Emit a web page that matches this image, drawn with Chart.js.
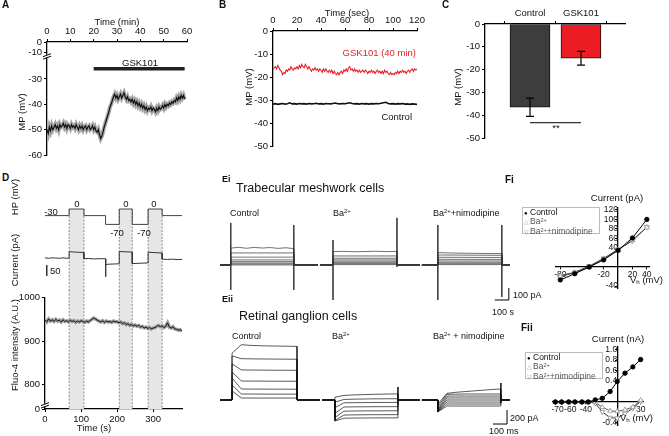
<!DOCTYPE html>
<html>
<head>
<meta charset="utf-8">
<script src="https://cdn.jsdelivr.net/npm/chart.js@4.4.1/dist/chart.umd.min.js"></script>
<style>
  body { margin: 0; background: #fff; }
  #fig { position: relative; width: 669px; height: 436px; overflow: hidden;
         font-family: 'Liberation Sans', Arial, sans-serif; color: #111; background: #fff; }
  #fig canvas { position: absolute; }
  .t { position: absolute; white-space: nowrap; font-size: 9.5px; line-height: 1; z-index: 5; }
  .pl { font-weight: bold; font-size: 10px; }
  .c { transform: translate(-50%, -50%); }
  .l { transform: translateY(-50%); }
  .r { transform: translate(-100%, -50%); }
  .rot { transform: translate(-50%, -50%) rotate(-90deg); }
  .big { font-size: 12.5px; }
  .sm { font-size: 9px; }
  sup { font-size: 0.65em; line-height: 0; vertical-align: 0.45em; }
  sub { font-size: 0.65em; line-height: 0; vertical-align: -0.2em; }
  .leg { position: absolute; border: 1px solid #bbb; background: #fff; font-size: 8.5px;
         line-height: 8.3px; padding: 0 1px; z-index: 5; white-space: nowrap; }
  .leg .g { color: #555; }
  .leg .m { display: inline-block; width: 6px; font-size: 6px; }
</style>
</head>
<body>
<div id="fig">
  <canvas id="chA" width="220" height="170" style="left:0;top:0"></canvas>
  <canvas id="chB" width="230" height="170" style="left:220px;top:0"></canvas>
  <canvas id="chC" width="229" height="170" style="left:440px;top:0"></canvas>
  <canvas id="chHP" width="220" height="45" style="left:0;top:195px"></canvas>
  <canvas id="chCur" width="220" height="50" style="left:0;top:240px"></canvas>
  <canvas id="chFluo" width="220" height="146" style="left:0;top:290px"></canvas>
  <canvas id="chEi" width="330" height="120" style="left:215px;top:200px"></canvas>
  <canvas id="chEii" width="330" height="96" style="left:215px;top:340px"></canvas>
  <canvas id="chFi" width="169" height="110" style="left:500px;top:190px"></canvas>
  <canvas id="chFii" width="169" height="106" style="left:500px;top:330px"></canvas>

  <!-- A -->
  <div class="t pl" style="left:2px;top:0">A</div>
  <div class="t c" style="left:117px;top:22px">Time (min)</div>
  <div class="t c" style="left:140px;top:63px">GSK101</div>
  <div class="t rot" style="left:22px;top:112px">MP (mV)</div>
  <!-- B -->
  <div class="t pl" style="left:219px;top:0">B</div>
  <div class="t c" style="left:347px;top:13px">Time (sec)</div>
  <div class="t r" style="left:416px;top:53px;color:#e8202a">GSK101 (40 min)</div>
  <div class="t r" style="left:412px;top:117px">Control</div>
  <div class="t rot" style="left:249px;top:87px">MP (mV)</div>
  <!-- C -->
  <div class="t pl" style="left:442px;top:0">C</div>
  <div class="t rot" style="left:458px;top:87px">MP (mV)</div>
  <div class="t c" style="left:556px;top:128px">**</div>
  <!-- D -->
  <div class="t pl" style="left:2px;top:173px">D</div>
  <div class="t rot" style="left:15px;top:197px">HP (mV)</div>
  <div class="t rot" style="left:15px;top:260px">Current (pA)</div>
  <div class="t rot" style="left:15px;top:345px">Fluo-4 intensity (A.U.)</div>
  <div class="t c" style="left:94px;top:428px">Time (s)</div>
  <div class="t c" style="left:51px;top:212px">-30</div>
  <div class="t c" style="left:77px;top:204px">0</div>
  <div class="t c" style="left:126px;top:204px">0</div>
  <div class="t c" style="left:154px;top:204px">0</div>
  <div class="t c" style="left:117px;top:233px">-70</div>
  <div class="t c" style="left:144px;top:233px">-70</div>
  <div class="t l" style="left:50px;top:271px">50</div>
  <!-- Ei -->
  <div class="t pl sm" style="left:222px;top:175px">Ei</div>
  <div class="t l big" style="left:236px;top:188px">Trabecular meshwork cells</div>
  <div class="t l sm" style="left:230px;top:213px">Control</div>
  <div class="t l sm" style="left:333px;top:213px">Ba<sup>2+</sup></div>
  <div class="t l sm" style="left:433px;top:213px">Ba<sup>2+</sup>+nimodipine</div>
  <div class="t l sm" style="left:513px;top:295px">100 pA</div>
  <div class="t l sm" style="left:492px;top:312px">100 s</div>
  <!-- Eii -->
  <div class="t pl sm" style="left:222px;top:295px">Eii</div>
  <div class="t l big" style="left:239px;top:316px">Retinal ganglion cells</div>
  <div class="t l sm" style="left:232px;top:336px">Control</div>
  <div class="t l sm" style="left:332px;top:336px">Ba<sup>2+</sup></div>
  <div class="t l sm" style="left:433px;top:336px">Ba<sup>2+</sup> + nimodipine</div>
  <div class="t l sm" style="left:510px;top:418px">200 pA</div>
  <div class="t l sm" style="left:489px;top:431px">100 ms</div>
  <!-- Fi -->
  <div class="t pl" style="left:505px;top:175px">Fi</div>
  <div class="t c" style="left:617px;top:198px">Current (pA)</div>
  <div class="t l" style="left:630px;top:280px">V<sub>h</sub> (mV)</div>
  <div class="leg" style="left:522px;top:207px;width:74px;height:25px">
    <div><span class="m" style="color:#000">&#9679;</span>Control</div>
    <div class="g"><span class="m" style="color:#999">&#9651;</span>Ba<sup>2+</sup></div>
    <div class="g"><span class="m" style="color:#999">&#9661;</span>Ba<sup>2+</sup>+nimodipine</div>
  </div>
  <!-- Fii -->
  <div class="t pl" style="left:521px;top:323px">Fii</div>
  <div class="t c" style="left:618px;top:339px">Current (nA)</div>
  <div class="t l" style="left:620px;top:418px">V<sub>h</sub> (mV)</div>
  <div class="leg" style="left:525px;top:352px;width:74px;height:25px">
    <div><span class="m" style="color:#000">&#9679;</span>Control</div>
    <div class="g"><span class="m" style="color:#999">&#9651;</span>Ba<sup>2+</sup></div>
    <div class="g"><span class="m" style="color:#999">&#9661;</span>Ba<sup>2+</sup>+nimodipine</div>
  </div>
</div>

<script>
(function () {
    'use strict';

    // ── Data ─────────────────────────────────────────────────────
    // A: membrane potential, one sample every 0.5 min
    const A_DT = 0.5;
    const A_MP = [
        -50, -51.5, -49, -50.5, -48.5, -50, -49, -48, -49.5, -48.5,
        -50, -48, -49, -48.5, -47.5, -49, -48, -49.5, -48, -48.5,
        -49.5, -48, -49, -48.5, -49.5, -48, -49, -50, -48.5, -49.5,
        -48.5, -50, -49, -48.5, -50, -49, -48.5, -50, -49.5, -48.5,
        -50, -49, -50.5, -51, -50, -52, -53.5, -52.5, -51, -49,
        -47.5, -46, -44.5, -43, -41, -40, -38.5, -37, -36, -37.5,
        -36.5, -38, -37, -36, -37.5, -36.5, -35.5, -37, -38, -37,
        -38.5, -38, -39, -38, -39.5, -38.5, -40, -39, -40.5, -39.5,
        -41, -40, -41.5, -40.5, -42, -41, -42.5, -41.5, -42, -41,
        -42.5, -41.5, -42, -43, -41.5, -42.5, -41, -42, -41.5, -40.5,
        -41.5, -40, -41, -40, -40.5, -39.5, -40, -39, -39.5, -38.5,
        -39, -37.5, -38.5, -37, -38, -36.5, -37.5, -36.5, -38
    ];
    const A_GSK_T = [20, 59];
    const A_GSK_Y = -26;
    const A_YTICKS = [-60, -50, -40, -30, -10, 0];

    // B: 120 s recordings
    const B_GSK_DT = 1;
    const B_GSK = [
        -16.5, -16, -15.5, -16.5, -15, -16, -17, -17.5, -19, -18,
        -18.5, -17, -17.5, -16.5, -17, -15.5, -16.5, -17, -16, -16.5,
        -15.5, -16.5, -15, -16, -14.5, -15.5, -16, -14.5, -15.5, -16.5,
        -15.5, -16.5, -17.5, -16.5, -17, -16, -17, -16.5, -17.5, -16.5,
        -17, -18, -16.5, -17.5, -16.5, -17.5, -18, -17, -18, -17,
        -18.5, -17.5, -18.5, -19, -18, -19, -18, -17.5, -18.5, -17,
        -17.5, -16.5, -17.5, -16, -15.5, -17, -16.5, -17.5, -16.5, -17.5,
        -17, -18, -17, -18, -17.5, -17, -18, -17, -17.5, -18.5,
        -17.5, -18, -17, -18, -17.5, -18.5, -17.5, -17, -18, -17.5,
        -18.5, -17.5, -18.5, -17, -18, -17.5, -18.5, -19, -18, -19,
        -18.5, -19, -18, -18.5, -17.5, -18.5, -17.5, -18, -17, -18,
        -17.5, -18.5, -17.5, -17, -18, -17, -16.5, -17.5, -16.5, -17,
        -16.5
    ];
    const B_CTRL_DT = 2;
    const B_CTRL = [
        -31.8, -31.6, -31.9, -31.7, -31.5, -31.8, -31.6, -31.2, -31.7, -31.6,
        -31.8, -31.5, -31.7, -31.6, -31.8, -31.5, -31.7, -31.6, -31.4, -31.7,
        -31.6, -31.8, -31.5, -31.6, -31.7, -31.5, -31.3, -31.6, -31.7, -31.5,
        -31.6, -31.4, -31.2, -31.5, -31.7, -31.6, -31.8, -31.5, -31.7, -31.6,
        -31.8, -31.6, -31.7, -31.5, -31.6, -31.4, -31.2, -31.0, -31.5, -31.7,
        -31.6, -31.8, -31.6, -31.7, -31.5, -31.8, -31.7, -31.9, -31.7, -31.8,
        -31.9
    ];

    // C: mean MP
    const C_CATS  = ['Control', 'GSK101'];
    const C_MEAN  = [-36.5, -15];
    const C_ERR   = [4, 3];
    const C_SIG_Y = -43.3;

    // D: holding potential protocol, current, Fluo-4
    const HP_T = [0, 67, 108, 168, 206, 242, 286, 325, 380];
    const HP_V = [-30, 0, -30, -70, 0, -70, 0, -30, -30];
    const CUR_T = [0, 10, 20, 30, 40, 50, 60, 67,
                   67, 75, 85, 95, 108,
                   108, 120, 135, 150, 168,
                   168, 169, 175, 190, 206,
                   206, 215, 230, 242,
                   242, 255, 270, 286,
                   286, 300, 315, 325,
                   325, 340, 355, 370, 380];
    const CUR_V = [1, -1, 1, 0, -1, 1, -1, 0,
                   29, 28, 27, 26, 25,
                   -3, -2, -4, -3, -3,
                   -85, -30, -28, -27, -26,
                   30, 29, 28, 27,
                   -25, -24, -23, -22,
                   27, 25, 24, 23,
                   -5, -6, -5, -7, -6];
    const CUR_BAR = 50;
    const FLUO_DT = 5;
    const FLUO = [
        948, 944, 951, 946, 949, 945, 950, 946, 948, 944,
        949, 945, 947, 944, 948, 945, 947, 943, 946, 944,
        947, 945, 943, 946, 944, 947, 950, 953, 951, 948,
        946, 944, 947, 943, 946, 944, 945, 943, 946, 944,
        945, 942, 944, 940, 942, 938, 940, 936, 938, 935,
        937, 934, 936, 932, 934, 930, 932, 929, 931, 928,
        930, 931, 934, 936, 933, 935, 931, 934, 942, 932,
        930, 933, 928, 927, 925, 926, 923
    ];
    const FLUO_TICKS = [0, 800, 900, 1000];
    const TIME_TICKS = [0, 100, 200, 300];
    const BANDS = [[67, 108], [206, 242], [286, 325]];

    // Ei: sweep timings [start, on, off, end] in s, plateau samples in pA
    const EI_TM = [[0, 77, 527, 700], [714, 807, 1264, 1428], [1442, 1556, 2013, 2070]];
    const EI_CTRL = [[140, 147, 139, 146, 141, 145, 138, 143, 136], [100, 100], [65, 65], [42, 42],
                     [28, 28], [16, 16], [8, 8], [0, 0]];
    const EI_BA   = [[111, 113, 110, 112, 114, 111, 113], [75, 75], [56, 56], [42, 42],
                     [31, 31], [19, 19], [11, 11], [3, 3]];
    const EI_NIMO = [[103, 100, 98, 97, 96, 95, 95], [83, 80], [64, 62], [47, 46],
                     [33, 33], [22, 22], [11, 11], [3, 3]];
    const EI_SPIKES = [[77, 350, -208], [527, 333, -208], [807, 208, -292],
                       [1264, 392, -17], [1556, 333, -292], [2013, 333, -267]];

    // Eii: timings in ms, samples in pA
    const EII_TM = [[0, 86, 550, 714], [729, 821, 1271, 1428], [1442, 1556, 2006, 2070]];
    const EII_CTRL = [
        [670, 790, 780, 775, 772, 770, 768, 765],
        [630, 590, 588, 586, 585, 584, 583, 582],
        [515, 430, 428, 427, 426, 425, 425, 424],
        [400, 272, 270, 270, 269, 268, 268, 268],
        [315, 158, 156, 156, 155, 155, 155, 154],
        [215, 86, 85, 85, 84, 84, 84, 84],
        [130, 29, 28, 28, 28, 28, 28, 28]
    ];
    const EII_BA = [
        [40, 65, 72, 76, 80, 83, 86, 88],
        [-30, 8, 12, 14, 16, 17, 18, 18],
        [-110, -40, -38, -37, -36, -35, -35, -34],
        [-190, -100, -98, -97, -96, -95, -95, -95],
        [-250, -160, -157, -156, -155, -155, -154, -154],
        [-290, -215, -212, -211, -210, -210, -209, -209],
        [-300, -260, -258, -257, -256, -255, -255, -255]
    ];
    const EII_NIMO = [
        [-60, 95, 110, 120, 130, 140, 150, 157],
        [-90, 80, 84, 86, 86, 86, 86, 86],
        [-120, 55, 57, 57, 57, 57, 57, 57],
        [-140, 28, 29, 29, 29, 29, 29, 29],
        [-150, 0, 0, 0, 0, 0, 0, 0],
        [-160, -28, -29, -29, -29, -29, -29, -29],
        [-170, -57, -57, -57, -57, -57, -57, -57],
        [-170, -86, -86, -86, -86, -86, -86, -86]
    ];
    const EII_SPIKES = [[1271, 186, -60], [2006, 243, -43]];

    // Fi / Fii: I-V curves
    const FI_V    = [-80, -60, -40, -20, 0, 20, 40];
    const FI_CTRL = [-27, -14, 0, 15, 35, 61, 100];
    const FI_BA   = [-20, -12, 0, 17, 35, 57, 83];
    const FI_NIMO = [-18, -11, 2, 18, 37, 55, 84];
    const FI_XTICKS = [-80, -20, 20, 40];
    const FI_YTICKS = [-40, 40, 60, 80, 100, 120];

    const FII_V    = [-79, -71, -62, -54, -45, -37, -28, -19, -9, 0, 10, 20, 30];
    const FII_CTRL = [0, 0, 0, 0, 0, 0, 0.04, 0.07, 0.2, 0.39, 0.55, 0.67, 0.81];
    const FII_BA   = [0, 0, 0, 0, 0, 0, -0.01, -0.1, -0.17, -0.18, -0.15, -0.1, 0.03];
    const FII_NIMO = [0, 0, 0, 0, 0, 0, -0.02, -0.19, -0.3, -0.31, -0.22, -0.12, 0.01];
    const FII_XTICKS = [-70, -60, -40, 30];
    const FII_YTICKS = [-0.4, 0.4, 0.6, 0.8, 1.0];

    // ── Shared defaults ──────────────────────────────────────────
    Chart.defaults.font.family = "'Liberation Sans', Arial, sans-serif";
    Chart.defaults.font.size   = 9.5;
    Chart.defaults.color       = '#111';
    Chart.defaults.animation   = false;
    Chart.defaults.responsive  = false;
    Chart.defaults.plugins.legend.display  = false;
    Chart.defaults.plugins.tooltip.enabled = false;
    Chart.defaults.elements.point.radius   = 0;
    Chart.defaults.elements.line.tension   = 0;

    const el = id => document.getElementById(id);
    const fixW = w => s => { s.width = w; };
    const fixH = h => s => { s.height = h; };
    const setTicks = vals => s => { s.ticks = vals.map(v => ({ value: v })); };
    const series = (vals, dt) => vals.map((v, i) => ({ x: i * dt, y: v }));
    const pairs = (xs, ys) => xs.map((x, i) => ({ x, y: ys[i] }));

    function axis(o, tickOpts) {
        return Object.assign({
            type: 'linear',
            offset: false,
            grid:   { drawOnChartArea: false, drawTicks: true, tickLength: 3, color: '#000', lineWidth: 1 },
            border: { color: '#000', width: 1.3 },
            ticks:  Object.assign({ color: '#111', padding: 2, font: { size: 9.5 } }, tickOpts || {})
        }, o);
    }
    const hidden = (min, max) => ({ type: 'linear', display: false, min, max });

    function line(data, color, width) {
        return { data, borderColor: color, borderWidth: width, pointRadius: 0, fill: false };
    }

    function breakMark(axisId, value) {
        return {
            id: 'brk',
            afterDraw(c) {
                const ctx = c.ctx, x = c.chartArea.left, y = c.scales[axisId].getPixelForValue(value);
                ctx.save();
                ctx.fillStyle = '#fff';
                ctx.fillRect(x - 3, y - 1.5, 6, 3);
                ctx.strokeStyle = '#000';
                ctx.lineWidth = 1;
                ctx.beginPath();
                ctx.moveTo(x - 4, y + 0.5); ctx.lineTo(x + 4, y - 2.5);
                ctx.moveTo(x - 4, y + 3);   ctx.lineTo(x + 4, y);
                ctx.stroke();
                ctx.restore();
            }
        };
    }

    // broken axis in A: 0 and -10 are squeezed above -30
    const brokenA = v => (v >= -10 ? -19.4 + (v + 10) * 0.4 : v);

    // ── A ────────────────────────────────────────────────────────
    new Chart(el('chA'), {
        type: 'line',
        data: { datasets: [
            line(series(A_MP, A_DT), '#111', 1.2),
            line(series(A_MP, A_DT), '#a5a5a5', 4),
            line(A_GSK_T.map(t => ({ x: t, y: A_GSK_Y })), '#222', 3.5)
        ] },
        options: {
            layout: { padding: { left: 17, right: 33, top: 0, bottom: 15 } },
            scales: {
                x: axis({ position: 'top', min: 0, max: 60, afterFit: fixH(42) }, { stepSize: 10 }),
                y: axis({ min: -60, max: brokenA(0), afterFit: fixW(30),
                          afterBuildTicks: setTicks(A_YTICKS.map(brokenA)) },
                        { callback: (v, i) => String(A_YTICKS[i]) })
            }
        },
        plugins: [breakMark('y', -21)]
    });

    // ── B ────────────────────────────────────────────────────────
    new Chart(el('chB'), {
        type: 'line',
        data: { datasets: [
            line(series(B_GSK, B_GSK_DT), '#e8202a', 1.1),
            line(series(B_CTRL, B_CTRL_DT), '#111', 1.6)
        ] },
        options: {
            layout: { padding: { left: 13, right: 33, top: 0, bottom: 24 } },
            scales: {
                x: axis({ position: 'top', min: 0, max: 120, afterFit: fixH(31) }, { stepSize: 20 }),
                y: axis({ min: -50, max: 0, afterFit: fixW(40) }, { stepSize: 10 })
            }
        }
    });

    // ── C ────────────────────────────────────────────────────────
    const C_X = C_CATS.map((c, i) => i + 1);
    new Chart(el('chC'), {
        type: 'bar',
        data: { datasets: [{
            data: pairs(C_X, C_MEAN),
            backgroundColor: ['#3d3d3d', '#ec1c24'],
            borderColor: '#111',
            borderWidth: 1,
            borderSkipped: false,
            barThickness: 40
        }] },
        options: {
            layout: { padding: { left: 0, right: 44, top: 0, bottom: 32 } },
            scales: {
                x: axis({ position: 'top', min: 0.118, max: 2.863, afterFit: fixH(24),
                          afterBuildTicks: setTicks(C_X) },
                        { callback: (v, i) => C_CATS[i] }),
                y: axis({ min: -50, max: 0, afterFit: fixW(45) }, { stepSize: 10 })
            }
        },
        plugins: [{
            id: 'errs',
            afterDatasetsDraw(c) {
                const ctx = c.ctx, xs = c.scales.x, ys = c.scales.y;
                ctx.save();
                ctx.strokeStyle = '#000';
                ctx.lineWidth = 1.2;
                C_X.forEach((xv, i) => {
                    const x = xs.getPixelForValue(xv);
                    const y1 = ys.getPixelForValue(C_MEAN[i] - C_ERR[i]);
                    const y2 = ys.getPixelForValue(C_MEAN[i] + C_ERR[i]);
                    ctx.beginPath();
                    ctx.moveTo(x, y1); ctx.lineTo(x, y2);
                    ctx.moveTo(x - 4, y1); ctx.lineTo(x + 4, y1);
                    ctx.moveTo(x - 4, y2); ctx.lineTo(x + 4, y2);
                    ctx.stroke();
                });
                const ys2 = ys.getPixelForValue(C_SIG_Y);
                ctx.lineWidth = 1;
                ctx.beginPath();
                ctx.moveTo(xs.getPixelForValue(C_X[0]), ys2);
                ctx.lineTo(xs.getPixelForValue(C_X[1]), ys2);
                ctx.stroke();
                ctx.restore();
            }
        }]
    });

    // ── D ────────────────────────────────────────────────────────
    function bands(mode) {
        return {
            id: 'bands',
            beforeDatasetsDraw(c) {
                const ctx = c.ctx, xs = c.scales.x, a = c.chartArea;
                const top = mode === 'zero' ? c.scales.y.getPixelForValue(0) : 0;
                const bot = mode === 'axis' ? a.bottom : c.height;
                ctx.save();
                BANDS.forEach(b => {
                    const x1 = xs.getPixelForValue(b[0]), x2 = xs.getPixelForValue(b[1]);
                    ctx.fillStyle = '#e6e6e6';
                    ctx.fillRect(x1, top, x2 - x1, bot - top);
                    ctx.strokeStyle = '#777';
                    ctx.lineWidth = 0.8;
                    ctx.setLineDash([2, 1.5]);
                    ctx.beginPath();
                    ctx.moveTo(x1, top); ctx.lineTo(x1, bot);
                    ctx.moveTo(x2, top); ctx.lineTo(x2, bot);
                    ctx.stroke();
                });
                ctx.restore();
            }
        };
    }

    new Chart(el('chHP'), {
        type: 'line',
        data: { datasets: [Object.assign(line(pairs(HP_T, HP_V), '#444', 1), { stepped: true })] },
        options: {
            layout: { padding: { left: 45, right: 38, top: 5, bottom: 0 } },
            scales: { x: hidden(0, 380), y: hidden(-141, 41) }
        },
        plugins: [bands('zero')]
    });

    new Chart(el('chCur'), {
        type: 'line',
        data: { datasets: [line(pairs(CUR_T, CUR_V), '#333', 1)] },
        options: {
            layout: { padding: { left: 45, right: 38, top: 0, bottom: 0 } },
            scales: { x: hidden(0, 380), y: hidden(-145, 82) }
        },
        plugins: [bands('full'), {
            id: 'bar50',
            afterDraw(c) {
                const ctx = c.ctx, x = c.scales.x.getPixelForValue(5), ys = c.scales.y;
                ctx.save();
                ctx.strokeStyle = '#000';
                ctx.lineWidth = 1.2;
                ctx.beginPath();
                ctx.moveTo(x, ys.getPixelForValue(-32));
                ctx.lineTo(x, ys.getPixelForValue(-32 - CUR_BAR));
                ctx.stroke();
                ctx.restore();
            }
        }]
    });

    new Chart(el('chFluo'), {
        type: 'line',
        data: { datasets: [
            line(series(FLUO, FLUO_DT), '#111', 1),
            line(series(FLUO, FLUO_DT), '#a0a0a0', 3.5)
        ] },
        options: {
            layout: { padding: { left: 0, right: 38, top: 2, bottom: 0 } },
            scales: {
                x: axis({ min: 0, max: 380, afterFit: fixH(27), afterBuildTicks: setTicks(TIME_TICKS) },
                        { maxRotation: 0 }),
                y: axis({ min: 743, max: 1000, afterFit: fixW(45),
                          afterBuildTicks: setTicks([743, 800, 900, 1000]) },
                        { callback: (v, i) => String(FLUO_TICKS[i]) })
            }
        },
        plugins: [bands('axis'), breakMark('y', 752)]
    });

    // ── E ────────────────────────────────────────────────────────
    function sweeps(levels, tm) {
        return levels.map(s => {
            const pts = [{ x: tm[0], y: 0 }, { x: tm[1], y: 0 }];
            s.forEach((v, k) => pts.push({ x: tm[1] + (tm[2] - tm[1]) * k / (s.length - 1), y: v }));
            pts.push({ x: tm[2], y: 0 }, { x: tm[3], y: 0 });
            return pts;
        });
    }
    function spikes(list) {
        const pts = [];
        list.forEach(s => pts.push({ x: s[0], y: s[1] }, { x: s[0], y: s[2] }, { x: s[0], y: null }));
        return pts;
    }
    function scaleBar(xv, yv, dx, dy) {
        return {
            id: 'scalebar',
            afterDraw(c) {
                const ctx = c.ctx, xs = c.scales.x, ys = c.scales.y;
                const x0 = xs.getPixelForValue(xv), y0 = ys.getPixelForValue(yv);
                ctx.save();
                ctx.strokeStyle = '#000';
                ctx.lineWidth = 1;
                ctx.beginPath();
                ctx.moveTo(xs.getPixelForValue(xv - dx), y0);
                ctx.lineTo(x0, y0);
                ctx.lineTo(x0, ys.getPixelForValue(yv + dy));
                ctx.stroke();
                ctx.restore();
            }
        };
    }
    function traceSets(fams, tms, spk, color) {
        const sets = [];
        fams.forEach((f, i) => sweeps(f, tms[i]).forEach(p => sets.push(line(p, color, 0.7))));
        sets.push(Object.assign(line(spikes(spk), color, 0.8), { spanGaps: false }));
        return sets;
    }

    new Chart(el('chEi'), {
        type: 'line',
        data: { datasets: traceSets([EI_CTRL, EI_BA, EI_NIMO], EI_TM, EI_SPIKES, '#333') },
        options: {
            layout: { padding: { left: 0, right: 30, top: 0, bottom: 20 } },
            scales: { x: hidden(-35.7, 2107), y: hidden(-292, 541) }
        },
        plugins: [scaleBar(2063, -292, 100, 100)]
    });

    new Chart(el('chEii'), {
        type: 'line',
        data: { datasets: traceSets([EII_CTRL, EII_BA, EII_NIMO], EII_TM, EII_SPIKES, '#111') },
        options: {
            layout: { padding: { left: 0, right: 30, top: 0, bottom: 0 } },
            scales: { x: hidden(-35.7, 2107), y: hidden(-514, 857) }
        },
        plugins: [scaleBar(2050, -343, 100, 200)]
    });

    // ── F ────────────────────────────────────────────────────────
    function ivSet(xs, ys, style, fill, stroke, r, rot, lineColor) {
        return {
            data: pairs(xs, ys),
            pointStyle: style, pointRadius: r, pointRotation: rot,
            pointBackgroundColor: fill, pointBorderColor: stroke, pointBorderWidth: 0.9,
            borderColor: lineColor, borderWidth: 1, fill: false, clip: false
        };
    }
    function ivAxes(xr, yr, xt, yt, ycb, xcb) {
        const tk = { font: { size: 8.5 }, padding: 1, autoSkip: false, maxRotation: 0 };
        return {
            x: axis({ min: xr[0], max: xr[1], position: { y: 0 }, afterBuildTicks: setTicks(xt),
                      grid: { drawOnChartArea: false, drawTicks: true, tickLength: 2, color: '#000' } },
                    Object.assign({}, tk, xcb ? { callback: xcb } : {})),
            y: axis({ min: yr[0], max: yr[1], position: { x: 0 }, afterBuildTicks: setTicks(yt),
                      grid: { drawOnChartArea: false, drawTicks: true, tickLength: 2, color: '#000' } },
                    Object.assign({}, tk, ycb ? { callback: ycb } : {}))
        };
    }

    new Chart(el('chFi'), {
        type: 'line',
        data: { datasets: [
            ivSet(FI_V, FI_CTRL, 'circle', '#000', '#000', 2.2, 0, '#000'),
            ivSet(FI_V, FI_BA, 'triangle', '#fff', '#999', 3, 0, '#555'),
            ivSet(FI_V, FI_NIMO, 'triangle', '#fff', '#999', 3, 180, '#333')
        ] },
        options: {
            layout: { padding: { left: 56, right: 20, top: 18, bottom: 12 } },
            scales: ivAxes([-86, 43], [-44, 124], FI_XTICKS, FI_YTICKS)
        }
    });

    new Chart(el('chFii'), {
        type: 'line',
        data: { datasets: [
            ivSet(FII_V, FII_CTRL, 'circle', '#000', '#000', 2.2, 0, '#000'),
            ivSet(FII_V, FII_BA, 'triangle', '#fff', '#999', 2.8, 0, '#555'),
            ivSet(FII_V, FII_NIMO, 'triangle', '#fff', '#999', 2.8, 180, '#333')
        ] },
        options: {
            layout: { padding: { left: 53, right: 26, top: 17, bottom: 11 } },
            scales: ivAxes([-82, 33], [-0.44, 1.05], FII_XTICKS, FII_YTICKS,
                           v => v.toFixed(1),
                           v => (v === -70 ? '-70    ' : String(v)))
        }
    });
})();
</script>
</body>
</html>
